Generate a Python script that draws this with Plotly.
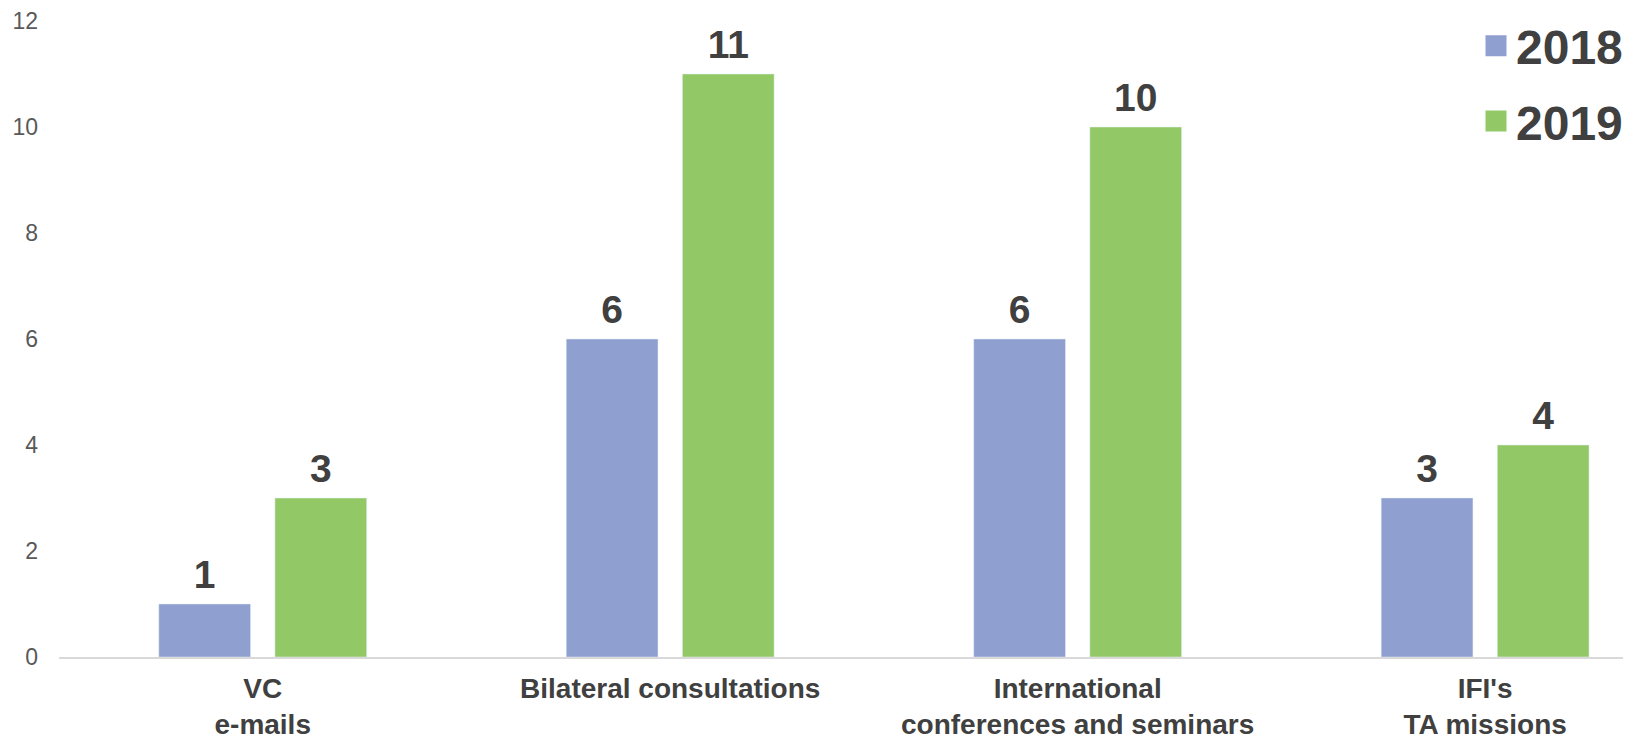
import plotly.graph_objects as go

categories = ["VC<br>e-mails", "Bilateral consultations",
              "International<br>conferences and seminars", "IFI's<br>TA missions"]
series_names = ["2018", "2019"]
values_2018 = [1, 6, 6, 3]
values_2019 = [3, 11, 10, 4]
colors = ["#8E9FD0", "#92C966"]
y_ticks = [0, 2, 4, 6, 8, 10, 12]

FONT = "Liberation Sans, Arial"
fig = go.Figure()
for name, vals, col in zip(series_names, [values_2018, values_2019], colors):
    fig.add_trace(go.Bar(
        x=categories, y=vals, name=name, marker_color=col,
        offsetgroup=name, showlegend=False, hoverinfo="skip",
    ))
# value labels, grouped like the bars
for name, vals in zip(series_names, [values_2018, values_2019]):
    fig.add_trace(go.Scatter(
        x=categories, y=vals, mode="markers+text", text=[str(v) for v in vals],
        textposition="top center", offsetgroup=name,
        marker=dict(size=9, opacity=0, color="white"),
        textfont=dict(family=FONT, size=39, color="#404040", weight="bold"),
        cliponaxis=False, showlegend=False, hoverinfo="skip",
    ))
# legend entries with larger square symbols
for name, col in zip(series_names, colors):
    fig.add_trace(go.Scatter(
        x=[None], y=[None], mode="markers", name=name, legendgroup=name,
        marker=dict(symbol="square", size=16, color=col, line=dict(color=col, width=5)),
    ))

# the page body adds an 8px offset, so the figure is sized to fill the window
fig.update_layout(
    width=1623, height=732,
    margin=dict(l=51, r=0, t=13, b=83, autoexpand=False),
    paper_bgcolor="white", plot_bgcolor="white",
    barmode="group", bargap=0.43, bargroupgap=0.21,
    scattermode="group", scattergap=0.43,
    font=dict(family=FONT, color="#404040"),
    legend=dict(
        xref="container", yref="container",
        x=0.9045, y=1.0, xanchor="left", yanchor="top",
        font=dict(size=48, color="#404040", weight="bold"),
        bgcolor="rgba(0,0,0,0)", tracegroupgap=10, traceorder="grouped",
    ),
    xaxis=dict(
        range=[-0.5, 3.358],
        showline=True, linecolor="#D9D9D9", linewidth=2,
        tickfont=dict(size=28, color="#404040", weight="bold"),
        showgrid=False, ticks="", ticklabelstandoff=5,
    ),
    yaxis=dict(
        range=[0, 12], tickvals=y_ticks, showgrid=False, zeroline=False,
        showline=False, tickfont=dict(size=23, color="#595959"),
        ticklabelstandoff=20,
    ),
)

fig.write_html("out.html")
